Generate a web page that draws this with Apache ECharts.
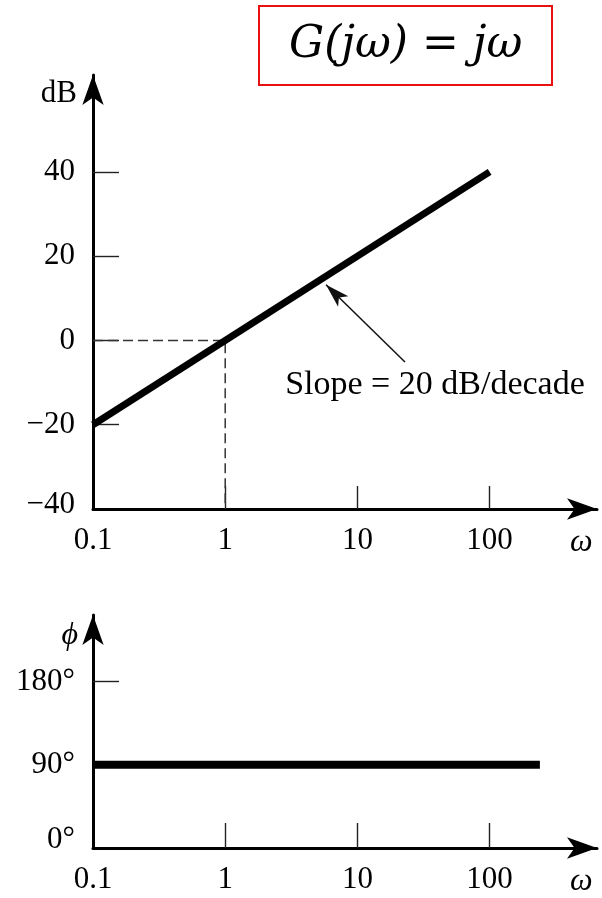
<!DOCTYPE html>
<html>
<head>
<meta charset="utf-8">
<script src="https://cdn.jsdelivr.net/npm/echarts@6/dist/echarts.min.js"></script>
<style>html,body{margin:0;padding:0;background:#fff;}#chart{width:602px;height:898px;}</style>
</head>
<body>
<div id="chart"></div>
<script>
// ---- data ----
var omegaTickLabels = [0.1, 1, 10, 100];
var omegaTicks = [1, 10, 100];
var dbTickLabels = [-40, -20, 0, 20, 40];
var phaseTickLabels = [0, 90, 180];

var magOmega = [0.1, 100];
var magDb = [-20, 40];

var guideOmega = [0.1, 1, 1];
var guideDb = [0, 0, -40];

var phaseOmega = [0.1, 240];
var phaseDeg = [90, 90];

var slopeArrowFrom = [22.9, -5.1];
var slopeArrowTo = [5.79, 13.2];
var slopeLabelAt = [38.6, -10.5];
var slopeText = 'Slope = 20 dB/decade';
var titleText = 'G(jω) = jω';

function pairs(xs, ys) { return xs.map(function (x, i) { return [x, ys[i]]; }); }

var serif = 'Liberation Serif';
var axisLine = { show: true, onZero: false, symbol: ['none', 'arrow'], symbolSize: [16, 30], lineStyle: { color: '#000', width: 3 } };
var tickStyle = { color: '#222', width: 1.4 };

function xAxisCfg(gridIndex, tickLen) {
  return {
    type: 'log', logBase: 10, gridIndex: gridIndex, min: 0.1, max: 649,
    axisLine: axisLine,
    axisTick: { show: true, inside: true, length: tickLen, lineStyle: tickStyle, customValues: omegaTicks },
    axisLabel: { show: true, margin: 16, fontFamily: serif, fontSize: 31, color: '#000', customValues: omegaTickLabels,
      formatter: function (v) { return String(+(+v).toPrecision(3)); } },
    splitLine: { show: false }, minorTick: { show: false }, minorSplitLine: { show: false },
    name: 'ω', nameLocation: 'end', nameGap: -27,
    nameTextStyle: { fontFamily: serif, fontStyle: 'italic', fontSize: 32, color: '#000', align: 'left', verticalAlign: 'top', padding: [18, 0, 0, 0] }
  };
}

var option = {
  animation: false,
  backgroundColor: '#fff',
  title: {
    text: titleText, left: 259, top: 6,
    borderColor: '#e81010', borderWidth: 2, padding: [12, 30, 12, 30],
    textStyle: { fontFamily: 'DejaVu Serif', fontStyle: 'italic', fontWeight: 'normal', fontSize: 44, lineHeight: 55, color: '#000' }
  },
  grid: [
    { left: 93, right: 5, top: 75, bottom: 389, containLabel: false },
    { left: 93, right: 5, top: 615, bottom: 45, containLabel: false }
  ],
  xAxis: [xAxisCfg(0, 23), xAxisCfg(1, 25)],
  yAxis: [
    {
      type: 'value', gridIndex: 0, min: -40, max: 63, interval: 20,
      axisLine: axisLine,
      axisTick: { show: true, inside: true, length: 26, lineStyle: tickStyle, customValues: [-20, 0, 20, 40] },
      axisLabel: { show: true, margin: 18, fontFamily: serif, fontSize: 31, color: '#000', customValues: dbTickLabels,
        formatter: function (v) {
          var s = v < 0 ? '\u2212' + Math.abs(v) : String(v);
          return v === -40 ? '{low|' + s + '}' : s;
        },
        rich: { low: { fontFamily: serif, fontSize: 31, color: '#000', padding: [0, 0, 8, 0] } } },
      splitLine: { show: false },
      name: 'dB', nameLocation: 'end', nameGap: -19,
      nameTextStyle: { fontFamily: serif, fontSize: 31, color: '#000', align: 'right', verticalAlign: 'middle', padding: [0, 16, 0, 0] }
    },
    {
      type: 'value', gridIndex: 1, min: 0, max: 252, interval: 90,
      axisLine: axisLine,
      axisTick: { show: true, inside: true, length: 26, lineStyle: tickStyle, customValues: [90, 180] },
      axisLabel: { show: true, margin: 18, fontFamily: serif, fontSize: 31, color: '#000', customValues: phaseTickLabels,
        formatter: function (v) { return v === 0 ? '{low|0°}' : v + '°'; },
        rich: { low: { fontFamily: serif, fontSize: 31, color: '#000', padding: [0, 0, 16, 0] } } },
      splitLine: { show: false },
      name: 'ϕ', nameLocation: 'end', nameGap: -21,
      nameTextStyle: { fontFamily: serif, fontStyle: 'italic', fontSize: 32, color: '#000', align: 'right', verticalAlign: 'middle', padding: [0, 15, 0, 0] }
    }
  ],
  series: [
    {
      type: 'line', xAxisIndex: 0, yAxisIndex: 0, data: pairs(guideOmega, guideDb),
      symbol: 'none', lineStyle: { color: '#333', width: 1.5, type: [10, 5] }, z: 2
    },
    {
      type: 'line', xAxisIndex: 0, yAxisIndex: 0, data: pairs(magOmega, magDb),
      symbol: 'none', lineStyle: { color: '#000', width: 7, cap: 'butt' }, z: 3,
      markLine: {
        silent: true, animation: false,
        symbol: ['none', 'arrow'],
        lineStyle: { color: '#111', width: 1.5, type: 'solid' },
        label: { show: false },
        data: [[{ coord: slopeArrowFrom, symbol: 'none' }, { coord: slopeArrowTo, symbol: 'arrow', symbolSize: [11, 24] }]]
      },
      markPoint: {
        silent: true, symbol: 'circle', symbolSize: 1, itemStyle: { color: 'rgba(0,0,0,0)' },
        label: { show: true, position: 'inside', formatter: slopeText, fontFamily: serif, fontSize: 34, color: '#000' },
        data: [{ coord: slopeLabelAt }]
      }
    },
    {
      type: 'line', xAxisIndex: 1, yAxisIndex: 1, data: pairs(phaseOmega, phaseDeg),
      symbol: 'none', lineStyle: { color: '#000', width: 8, cap: 'butt' }, z: 3
    }
  ]
};

var chart = echarts.init(document.getElementById('chart'), null, { renderer: 'canvas' });
chart.setOption(option);
</script>
</body>
</html>
